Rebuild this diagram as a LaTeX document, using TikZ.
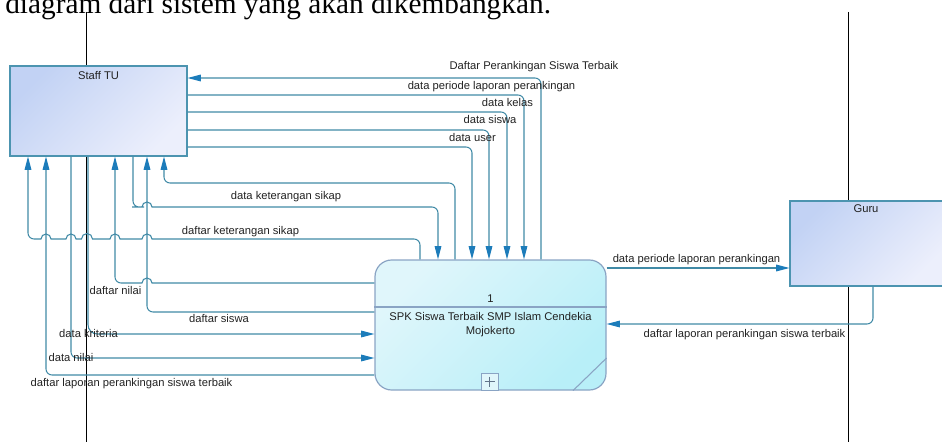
\documentclass[tikz,border=0pt]{standalone}
\usepackage{fontspec}
\setmainfont{Liberation Serif}
\newfontfamily\dfdfont{Liberation Sans}
\usetikzlibrary{arrows.meta}

\definecolor{flowline}{RGB}{64,138,166}
\definecolor{flowtip}{RGB}{28,124,186}
\definecolor{entline}{RGB}{76,148,176}
\definecolor{entlight}{RGB}{236,239,252}
\definecolor{entdark}{RGB}{194,210,244}
\definecolor{procline}{RGB}{138,164,196}
\definecolor{proclight}{RGB}{224,246,251}
\definecolor{procdark}{RGB}{184,239,248}
\definecolor{lbltext}{RGB}{34,34,34}

\tikzset{
  entity/.style={draw=entline, line width=0.8pt, top color=entdark, bottom color=entlight, shading angle=45, inner sep=0pt},
  process/.style={draw=procline, line width=0.9pt, rounded corners=12.5pt, top color=proclight, bottom color=procdark, shading angle=45, inner sep=0pt},
  flow/.style={draw=flowline, line width=0.8pt, rounded corners=4.5pt, -{Triangle[length=10pt,width=5pt,color=flowtip]}},
  lbl/.style={font=\dfdfont\fontsize{8.4}{10.5}\selectfont, text=lbltext, inner sep=0pt, anchor=base},
  pageline/.style={draw=black, line width=0.7pt},
}

\begin{document}
\begin{tikzpicture}[line join=miter, x={(0.75pt,0)}, y={(0,-0.75pt)}]
  \useasboundingbox (0,0) rectangle (942,442);
  % teks dokumen dan garis tepi halaman
  \node[font=\fontsize{22}{26}\selectfont, inner sep=0pt, anchor=base west] (doc-text) at (5,14) {diagram dari sistem yang akan dikembangkan.};
  \path[pageline] (86.5,12) -- (86.5,442);
  \path[pageline] (848.5,12) -- (848.5,442);

  % entitas dan proses
  \node[entity, minimum width=132.75pt, minimum height=67.5pt] (staff) at (98.5,111) {};
  \node[lbl] (staff-name) at (98.5,79.5) {Staff TU};
  \node[entity, minimum width=114.75pt, minimum height=63.75pt] (guru) at (866.5,243.5) {};
  \node[lbl] (guru-name) at (866,212) {Guru};
  \node[process, minimum width=173.25pt, minimum height=97.5pt] (proc) at (490.5,325) {};
  \path[draw=procline, line width=0.9pt] (proc.west |- 0,307) -- (proc.east |- 0,307);
  \node[lbl] (proc-id) at (490.5,302) {1};
  \node[lbl, anchor=north, align=center] (proc-name) at (490.5,312.5) {SPK Siswa Terbaik SMP Islam Cendekia\\Mojokerto};
  \node[draw=procline, line width=0.6pt, fill=proclight, minimum size=12.75pt, inner sep=0pt] (proc-sub) at (489.5,381.5) {};
  \path[draw=procline!70!black, line width=0.5pt] (proc-sub.center) ++(-5,0) -- ++(10,0) (proc-sub.center) ++(0,-5) -- ++(0,10);
  \path[draw=procline, line width=0.8pt] (proc.south -| 573,0) -- (proc.east |- 0,358);

  % aliran di sisi kanan staff TU
  \draw[flow] (proc.north -| 541,0) |- (staff.east |- 0,78);
  \draw[flow] (staff.east |- 0,95) -| (proc.north -| 524,0);
  \draw[flow] (staff.east |- 0,112) -| (proc.north -| 507,0);
  \draw[flow] (staff.east |- 0,130) -| (proc.north -| 489,0);
  \draw[flow] (staff.east |- 0,147) -| (proc.north -| 472,0);

  % aliran di bawah staff TU (dengan lompatan)
  \draw[flow] (proc.north -| 455,0) |- (164,183) -- (staff.south -| 164,0);
  \draw[flow] (staff.south -| 133,0) |- (138,207) [sharp corners] -- (142,207)
    arc[start angle=180, end angle=0, radius=3.75pt] -- (156,207) [rounded corners=4.5pt] -| (proc.north -| 438,0);
  \draw[flow] (proc.north -| 420,0) |- (160,239) [sharp corners] -- (152,239)
    arc[start angle=0, end angle=180, radius=3.75pt] -- (120,239)
    arc[start angle=0, end angle=180, radius=3.75pt] -- (92.5,239)
    arc[start angle=0, end angle=180, radius=4.125pt] -- (76,239)
    arc[start angle=0, end angle=180, radius=3.75pt] -- (51,239)
    arc[start angle=0, end angle=180, radius=3.75pt] -- (36,239)
    [rounded corners=4.5pt] -- (28,239) -- (staff.south -| 28,0);
  \draw[flow] (proc.west |- 0,283) -- (160,283) [sharp corners] -- (152,283)
    arc[start angle=0, end angle=180, radius=3.75pt] -- (138,283) [rounded corners=4.5pt] -| (staff.south -| 115,0);
  \draw[flow] (proc.west |- 0,312) -| (staff.south -| 147,0);
  \draw[flow, rounded corners=7pt] (staff.south -| 88,0) |- (proc.west |- 0,334);
  \draw[flow] (staff.south -| 71,0) |- (proc.west |- 0,358);
  \draw[flow] (proc.west |- 0,375) -| (staff.south -| 46,0);

  % aliran ke dan dari guru
  \draw[flow] (proc.east |- 0,268) -- (guru.west |- 0,268);
  \draw[flow] (guru.south -| 873,0) |- (proc.east |- 0,324);

  % label aliran
  \node[lbl] (l-rank) at (534,70) {Daftar Perankingan Siswa Terbaik};
  \node[lbl] (l-periode) at (491.5,89.5) {data periode laporan perankingan};
  \node[lbl] (l-kelas) at (507.5,106.5) {data kelas};
  \node[lbl] (l-siswa) at (490,124) {data siswa};
  \node[lbl] (l-user) at (472.5,141.5) {data user};
  \node[lbl] (l-ket) at (286,199.5) {data keterangan sikap};
  \node[lbl] (l-dket) at (240.5,234) {daftar keterangan sikap};
  \node[lbl] (l-dnilai) at (115.5,294) {daftar nilai};
  \node[lbl] (l-dsiswa) at (219,322.5) {daftar siswa};
  \node[lbl] (l-kriteria) at (88.5,337.5) {data kriteria};
  \node[lbl] (l-nilai) at (71,361) {data nilai};
  \node[lbl] (l-laporan) at (131.5,386.5) {daftar laporan perankingan siswa terbaik};
  \node[lbl] (l-periode-guru) at (696.5,262.5) {data periode laporan perankingan};
  \node[lbl] (l-laporan-guru) at (744.5,337.5) {daftar laporan perankingan siswa terbaik};
\end{tikzpicture}
\end{document}
